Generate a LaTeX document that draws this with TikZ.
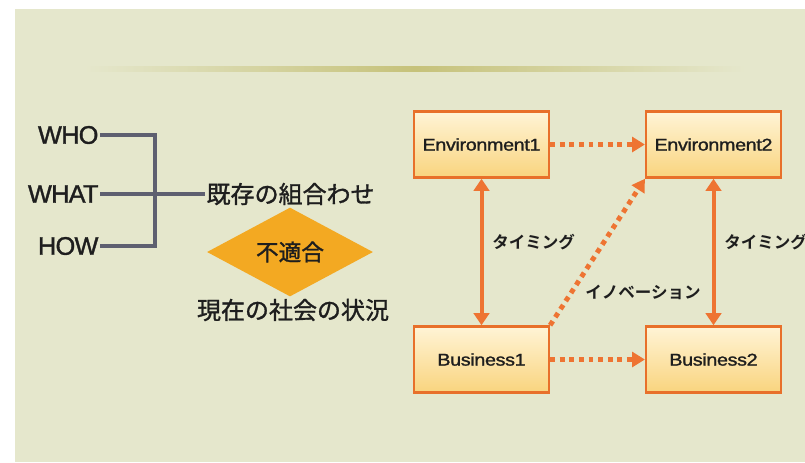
\documentclass[tikz,border=0pt]{standalone}
\usepackage{fontspec}
\usetikzlibrary{shapes.geometric,arrows.meta}
\setmainfont{Liberation Sans}[FakeBold=1.3]
\newfontfamily\wfont[FakeBold=1.4,LetterSpace=-3]{Liberation Sans}
\newfontfamily\jpfont[FakeBold=1.3]{Noto Sans CJK JP}
\newfontfamily\boxfont[FakeStretch=1.16,FakeBold=1.4,LetterSpace=-2]{Liberation Sans}
\newfontfamily\lblfont{Noto Sans CJK JP}[BoldFont={* Bold}]
\definecolor{bgc}{HTML}{E5E7CC}
\definecolor{olive}{HTML}{C6C27A}
\definecolor{brk}{HTML}{5E6070}
\definecolor{dia}{HTML}{F3A922}
\definecolor{boxline}{HTML}{E8702A}
\definecolor{arr}{HTML}{EE7432}
\definecolor{txt}{HTML}{1E1E1E}
\definecolor{boxtop}{HTML}{FFF4D6}
\definecolor{boxbot}{HTML}{F9D47E}
\begin{document}
\begin{tikzpicture}[x=0.75pt,y=-0.75pt,
  wlabel/.style={font=\wfont\fontsize{19pt}{21pt}\selectfont, text=txt, inner sep=1pt, anchor=east},
  jtext/.style={font=\jpfont\fontsize{18pt}{20pt}\selectfont, text=txt, inner sep=1pt},
  bracket/.style={draw=brk, line width=3pt},
  stagebox/.style={draw=boxline, line width=1.9pt, top color=boxtop, bottom color=boxbot,
     minimum width=101pt, minimum height=49.5pt, inner sep=0pt,
     font=\boxfont\fontsize{12.75pt}{14pt}\selectfont, text=txt},
  solidarr/.style={draw=arr, line width=3pt, {Triangle[width=11.5pt,length=9pt]}-{Triangle[width=11.5pt,length=9pt]}},
  dotarr/.style={draw=arr, line width=3.7pt, dash pattern=on 3.7pt off 3.5pt, -{Triangle[width=11pt,length=9.5pt]}},
  smalllbl/.style={font=\lblfont\bfseries\fontsize{12.4pt}{14pt}\selectfont, text=txt, inner sep=0pt, anchor=west}]
\useasboundingbox (0,0) rectangle (805,462);
\clip (0,0) rectangle (805,462);
\fill[white] (0,0) rectangle (805,462);
\fill[bgc] (15,9) rectangle (805,462);
% top rule
\shade[left color=bgc, right color=bgc, middle color=olive] (85,66) rectangle (745,71);
% left part
\node[wlabel] (who) at (100,135) {WHO};
\node[wlabel] (what) at (100,194) {WHAT};
\node[wlabel] (how) at (100,246) {HOW};
\coordinate (j) at (155,194);
\node[jtext, anchor=west] (combo) at (205,194) {既存の組合わせ};
\node[diamond, fill=dia, minimum width=124.5pt, minimum height=60pt, inner sep=0pt,
      font=\jpfont\fontsize{17pt}{19pt}\selectfont, text=txt] (mis) at (290,252) {不適合};
\node[jtext] (now) at (293,310) {現在の社会の状況};
\draw[bracket] (who.east) -| (j);
\draw[bracket] (how.east) -| (j);
\draw[bracket] (what.east) -- (combo.west);
% right part
\node[stagebox] (e1) at (481.5,144.5) {Environment1};
\node[stagebox] (e2) at (713.5,144.5) {Environment2};
\node[stagebox] (b1) at (481.5,359.5) {Business1};
\node[stagebox] (b2) at (713.5,359.5) {Business2};
\draw[dotarr] (e1.east) -- (e2.west);
\draw[dotarr] (b1.east) -- (b2.west);
\draw[dotarr] (b1.north east) -- (e2.south west);
\draw[solidarr] (e1.south) -- (b1.north);
\draw[solidarr] (e2.south) -- (b2.north);
\node[smalllbl] (t1) at (492,242) {タイミング};
\node[smalllbl] (t2) at (724,242) {タイミング};
\node[smalllbl] (inv) at (585,292) {イノベーション};
\end{tikzpicture}
\end{document}
